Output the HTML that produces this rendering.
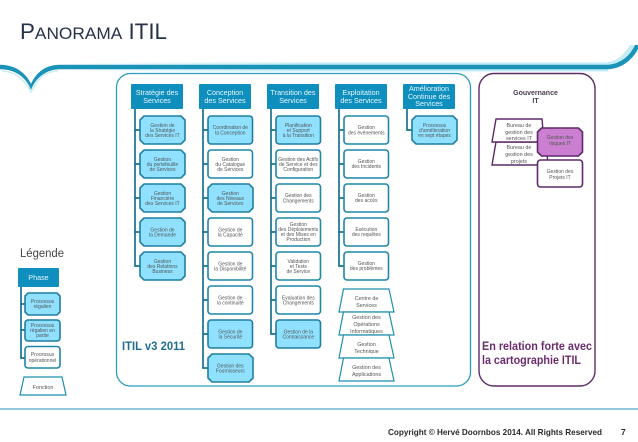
<!DOCTYPE html>
<html><head><meta charset="utf-8"><style>
html,body{margin:0;padding:0;background:#fff}
svg{display:block;font-family:"Liberation Sans",sans-serif}
.t{font-size:5px;fill:#555;text-anchor:middle}
.h{font-size:7.2px;fill:#e8f7fc;text-anchor:middle}
.f{font-size:5.4px;fill:#555;text-anchor:middle}
.b{fill:#fff;stroke:#1f87a8;stroke-width:1.6}
.l{fill:#8fe1ff;stroke:#1f7f9f;stroke-width:1.6}
.p{fill:#fff;stroke:#5e2a68;stroke-width:1.4}
.q{fill:#cb7fd0;stroke:#5e2a68;stroke-width:1.6}
.hd{fill:#0e8fbe}
.c{fill:none;stroke:#17708f;stroke-width:1.7}
.z{fill:#fff;stroke:#1f8fb0;stroke-width:1.2}
</style></head><body>
<svg width="638" height="442" viewBox="0 0 638 442" xmlns="http://www.w3.org/2000/svg">
<defs>
<polygon id="o" points="4,0 41,0 45,4 45,24 41,28 4,28 0,24 0,4"/>
<rect id="r" width="44.5" height="28" rx="3" ry="3"/>
<linearGradient id="gh" x1="60" y1="0" x2="300" y2="0" gradientUnits="userSpaceOnUse"><stop offset="0" stop-color="#c4ecf6" stop-opacity="0"/><stop offset="1" stop-color="#c4ecf6"/></linearGradient>
</defs>

<text x="20" y="39" fill="#25324a" textLength="147" lengthAdjust="spacingAndGlyphs" font-size="22">P<tspan font-size="17">ANORAMA</tspan> ITIL</text>

<path d="M60,62.5 L604,62.5 C616,62.5 624,55 630,45 L635,45 C630,56 620,65 606,65 L60,65 Z" fill="url(#gh)"/>
<rect x="60" y="69" width="548" height="2.6" fill="url(#gh)"/>
<path d="M2,71 C14,71 24,79 31,92 C38,79 44,71 58,71" fill="none" stroke="#cfecf4" stroke-width="1.6"/>
<path d="M0,64.8 C15,64.8 26,73 31,84 C36,73 45,64.8 60,64.8 L606,64.8 C620,64.8 630,56 635,45 L640,45 C634,59 622,69.3 606,69.3 L60,69.3 C47,69.3 36,77 31,90 C26,77 15,69.3 0,69.3 Z" fill="#1a93b8"/>

<rect x="116.5" y="73.5" width="354" height="312.5" rx="14" fill="#fff" stroke="#2a9dbd" stroke-width="1.3"/>
<rect x="479" y="73.5" width="116" height="312.5" rx="15" fill="#fff" stroke="#5e2a68" stroke-width="1.4"/>

<!-- connectors -->
<path class="c" d="M135,109 V266 H140 M135,130 H140 M135,164 H140 M135,198 H140 M135,232 H140"/>
<path class="c" d="M203,109 V368 H208 M203,130 H208 M203,164 H208 M203,198 H208 M203,232 H208 M203,266 H208 M203,300 H208 M203,334 H208"/>
<path class="c" d="M271,109 V334 H276 M271,130 H276 M271,164 H276 M271,198 H276 M271,232 H276 M271,266 H276 M271,300 H276"/>
<path class="c" d="M339,109 V266 H344 M339,130 H344 M339,164 H344 M339,198 H344 M339,232 H344"/>
<path class="c" d="M407,109 V130 H412"/>

<!-- headers -->
<rect class="hd" x="131" y="84" width="52" height="25" rx="1"/>
<rect class="hd" x="199" y="84" width="52" height="25" rx="1"/>
<rect class="hd" x="267" y="84" width="52" height="25" rx="1"/>
<rect class="hd" x="335" y="84" width="52" height="25" rx="1"/>
<rect class="hd" x="403" y="84" width="52" height="25" rx="1"/>
<text class="h" x="157" y="95">Stratégie des</text><text class="h" x="157" y="103">Services</text>
<text class="h" x="225" y="95">Conception</text><text class="h" x="225" y="103">des Services</text>
<text class="h" x="293" y="95">Transition des</text><text class="h" x="293" y="103">Services</text>
<text class="h" x="361" y="95">Exploitation</text><text class="h" x="361" y="103">des Services</text>
<text class="h" x="429" y="91">Amélioration</text><text class="h" x="429" y="99">Continue des</text><text class="h" x="429" y="106">Services</text>

<!-- col 1 -->
<use href="#o" class="l" x="140" y="116"/><use href="#o" class="l" x="140" y="150"/><use href="#o" class="l" x="140" y="184"/><use href="#o" class="l" x="140" y="218"/><use href="#o" class="l" x="140" y="252"/>
<text class="t" x="162.5" y="126.8">Gestion de</text><text class="t" x="162.5" y="131.8">la Stratégie</text><text class="t" x="162.5" y="136.8">des Services IT</text>
<text class="t" x="162.5" y="160.8">Gestion</text><text class="t" x="162.5" y="165.8">du portefeuille</text><text class="t" x="162.5" y="170.8">de Services</text>
<text class="t" x="162.5" y="194.8">Gestion</text><text class="t" x="162.5" y="199.8">Financière</text><text class="t" x="162.5" y="204.8">des Services IT</text>
<text class="t" x="162.5" y="231.3">Gestion de</text><text class="t" x="162.5" y="236.3">la Demande</text>
<text class="t" x="162.5" y="262.8">Gestion</text><text class="t" x="162.5" y="267.8">des Relations</text><text class="t" x="162.5" y="272.8">Business</text>

<!-- col 2 -->
<use href="#r" class="l" x="208" y="116"/><use href="#r" class="b" x="208" y="150"/><use href="#o" class="l" x="208" y="184"/><use href="#r" class="b" x="208" y="218"/><use href="#r" class="b" x="208" y="252"/><use href="#r" class="b" x="208" y="286"/><use href="#r" class="l" x="208" y="320"/><use href="#o" class="l" x="208" y="354"/>
<text class="t" x="230.3" y="129">Coordination de</text><text class="t" x="230.3" y="134.6">la Conception</text>
<text class="t" x="230.3" y="160.8">Gestion</text><text class="t" x="230.3" y="165.8">du Catalogue</text><text class="t" x="230.3" y="170.8">de Services</text>
<text class="t" x="230.3" y="194.8">Gestion</text><text class="t" x="230.3" y="199.8">des Niveaux</text><text class="t" x="230.3" y="204.8">de Services</text>
<text class="t" x="230.3" y="231.3">Gestion de</text><text class="t" x="230.3" y="236.3">la Capacité</text>
<text class="t" x="230.3" y="265.3">Gestion de</text><text class="t" x="230.3" y="270.3">la Disponibilité</text>
<text class="t" x="230.3" y="299.3">Gestion de</text><text class="t" x="230.3" y="304.3">la continuité</text>
<text class="t" x="230.3" y="333.3">Gestion de</text><text class="t" x="230.3" y="338.3">la Sécurité</text>
<text class="t" x="230.3" y="367.3">Gestion des</text><text class="t" x="230.3" y="372.3">Fournisseurs</text>

<!-- col 3 -->
<use href="#r" class="l" x="276" y="116"/><use href="#r" class="b" x="276" y="150"/><use href="#r" class="b" x="276" y="184"/><use href="#r" class="b" x="276" y="218"/><use href="#r" class="b" x="276" y="252"/><use href="#r" class="b" x="276" y="286"/><use href="#r" class="l" x="276" y="320"/>
<text class="t" x="298.3" y="126.8">Planification</text><text class="t" x="298.3" y="131.8">et Support</text><text class="t" x="298.3" y="136.8">à la Transition</text>
<text class="t" x="298.3" y="160.8">Gestion des Actifs</text><text class="t" x="298.3" y="165.8">de Service et des</text><text class="t" x="298.3" y="170.8">Configuration</text>
<text class="t" x="298.3" y="197">Gestion des</text><text class="t" x="298.3" y="202.3">Changements</text>
<text class="t" x="298.3" y="225.8">Gestion</text><text class="t" x="298.3" y="230.8">des Déploiements</text><text class="t" x="298.3" y="235.8">et des Mises en</text><text class="t" x="298.3" y="240.8">Production</text>
<text class="t" x="298.3" y="262.8">Validation</text><text class="t" x="298.3" y="267.8">et Tests</text><text class="t" x="298.3" y="272.8">de Service</text>
<text class="t" x="298.3" y="299.3">Evaluation des</text><text class="t" x="298.3" y="304.3">Changements</text>
<text class="t" x="298.3" y="333.3">Gestion de la</text><text class="t" x="298.3" y="338.3">Connaissance</text>

<!-- col 4 -->
<use href="#r" class="b" x="344" y="116"/><use href="#r" class="b" x="344" y="150"/><use href="#r" class="b" x="344" y="184"/><use href="#r" class="b" x="344" y="218"/><use href="#r" class="b" x="344" y="252"/>
<text class="t" x="366.3" y="129">Gestion</text><text class="t" x="366.3" y="134.6">des événements</text>
<text class="t" x="366.3" y="163">Gestion</text><text class="t" x="366.3" y="168">des Incidents</text>
<text class="t" x="366.3" y="197">Gestion</text><text class="t" x="366.3" y="202">des accès</text>
<text class="t" x="366.3" y="231">Exécution</text><text class="t" x="366.3" y="236">des requêtes</text>
<text class="t" x="366.3" y="265">Gestion</text><text class="t" x="366.3" y="270">des problèmes</text>

<!-- trapezoids -->
<polygon class="z" points="343.5,289 389,289 394,312 339,312"/>
<polygon class="z" points="343.5,312 389,312 394,335 339,335"/>
<polygon class="z" points="343.5,335 389,335 394,358 339,358"/>
<polygon class="z" points="343.5,358 389,358 394,381 339,381"/>
<text class="f" x="366.5" y="300">Centre de</text><text class="f" x="366.5" y="307">Services</text>
<text class="f" x="366.5" y="319">Gestion des</text><text class="f" x="366.5" y="326">Opérations</text><text class="f" x="366.5" y="333">Informatiques</text>
<text class="f" x="366.5" y="346">Gestion</text><text class="f" x="366.5" y="353">Technique</text>
<text class="f" x="366.5" y="369">Gestion des</text><text class="f" x="366.5" y="376">Applications</text>

<!-- col 5 -->
<use href="#o" class="l" x="412" y="116"/>
<text class="t" x="434.5" y="126.8">Processus</text><text class="t" x="434.5" y="131.8">d'amélioration</text><text class="t" x="434.5" y="136.8">en sept étapes</text>

<text x="122" y="350" font-size="12" font-weight="bold" fill="#1f6d8f" textLength="63" lengthAdjust="spacingAndGlyphs">ITIL v3 2011</text>

<!-- governance -->
<text x="535.5" y="95" font-size="7" font-weight="bold" fill="#4a3d50" text-anchor="middle">Gouvernance</text>
<text x="535.5" y="103" font-size="7" font-weight="bold" fill="#4a3d50" text-anchor="middle">IT</text>
<polygon class="p" points="496,142 546,142 548,165 492,165"/>
<polygon class="p" points="496,119 542,119 544,142 492,142"/>
<text class="f" x="519" y="127">Bureau de</text><text class="f" x="519" y="134">gestion des</text><text class="f" x="519" y="140">services IT</text>
<text class="f" x="519" y="149">Bureau de</text><text class="f" x="519" y="156">gestion des</text><text class="f" x="519" y="163">projets</text>
<use href="#o" class="q" x="537.5" y="128"/>
<rect class="p" style="stroke-width:1.6" x="537.5" y="160" width="45" height="27" rx="3"/>
<text class="t" x="560" y="139">Gestion des</text><text class="t" x="560" y="145">risques IT</text>
<text class="t" x="560" y="173">Gestion des</text><text class="t" x="560" y="179">Projets IT</text>
<text x="482" y="350" font-size="12" font-weight="bold" fill="#6b2d6f" textLength="110" lengthAdjust="spacingAndGlyphs">En relation forte avec</text>
<text x="482" y="364" font-size="12" font-weight="bold" fill="#6b2d6f" textLength="99" lengthAdjust="spacingAndGlyphs">la cartographie ITIL</text>

<!-- legend -->
<text x="20" y="257" font-size="11.5" fill="#444" textLength="44" lengthAdjust="spacingAndGlyphs">Légende</text>
<rect class="hd" x="18" y="268" width="41" height="19" rx="1"/>
<text class="h" x="38.5" y="280">Phase</text>
<path class="c" d="M21,287 V358 H25 M21,304 H25 M21,330 H25"/>
<polygon class="l" points="28,293 57,293 60,296 60,312 57,315 28,315 25,312 25,296"/>
<rect class="l" x="25" y="320" width="35" height="21" rx="3"/>
<rect class="b" x="25" y="346.5" width="35" height="21.5" rx="3"/>
<text class="t" x="42.5" y="303">Processus</text><text class="t" x="42.5" y="308">régalien</text>
<text class="t" x="42.5" y="327">Processus</text><text class="t" x="42.5" y="332">régalien en</text><text class="t" x="42.5" y="337">partie</text>
<text class="t" x="42.5" y="356">Processus</text><text class="t" x="42.5" y="362">opérationnel</text>
<polygon class="z" points="24,377 62,377 66,395 20,395"/>
<text class="f" x="43" y="389">Fonction</text>

<!-- footer -->
<rect x="0" y="408.5" width="638" height="1" fill="#2a94b3"/>
<text x="388" y="435" font-size="8.5" font-weight="bold" fill="#2a2a2a" textLength="214" lengthAdjust="spacingAndGlyphs">Copyright © Hervé Doornbos 2014. All Rights Reserved</text>
<text x="621" y="435" font-size="8.5" font-weight="bold" fill="#2a2a2a">7</text>
</svg>
</body></html>
